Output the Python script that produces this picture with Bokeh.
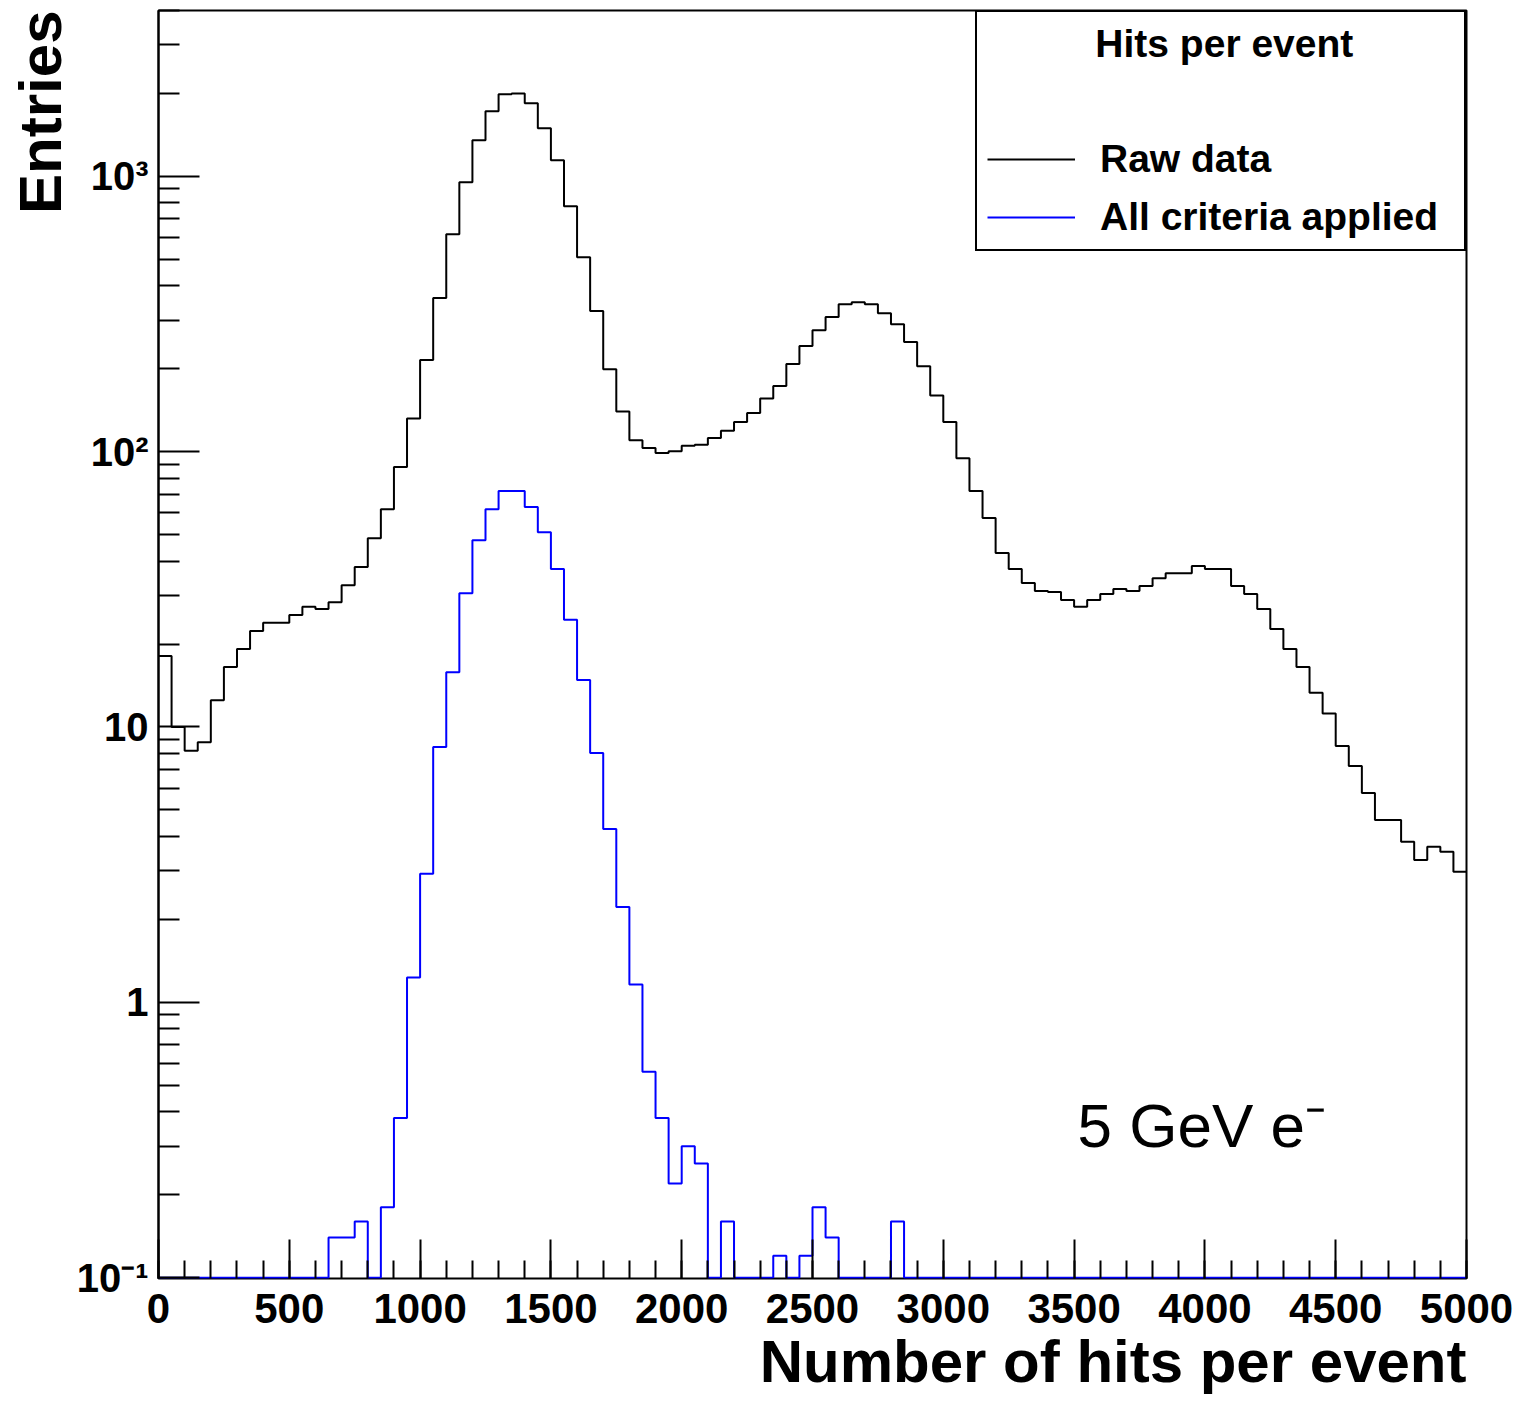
import numpy as np
from bokeh.plotting import figure
from bokeh.models import (Range1d, FixedTicker, CustomJSTickFormatter, Legend,
                          LegendItem, Label, Title)
from bokeh.embed import file_html
from bokeh.resources import INLINE

# ---------------- data ----------------
bin_edges = list(range(0, 5001, 50))          # 100 bins of 50 hits

raw_data = [
    18.1, 10.0, 8.2, 8.8, 12.5, 16.5, 19.2, 22.3, 23.9, 23.9,
    25.5, 27.3, 26.8, 28.4, 32.7, 38.1, 48.5, 61.8, 87.9, 132,
    215, 361, 616, 951, 1352, 1722, 1985, 2000, 1841, 1494,
    1143, 778, 508, 324, 199, 140, 110, 103, 98.8, 100.4,
    105, 106, 112, 119, 128, 138, 156, 173, 208, 242,
    276, 308, 343, 349, 343, 318, 290, 250, 204, 160,
    128, 94.7, 71.9, 57.4, 42.8, 37.5, 33.3, 31.2, 30.9, 28.9,
    27.3, 28.9, 30.4, 31.7, 31.2, 32.5, 34.7, 36.2, 36.2, 38.4,
    37.5, 37.5, 32.5, 30.4, 26.8, 22.7, 19.2, 16.5, 13.3, 11.2,
    8.53, 7.22, 5.76, 4.59, 4.59, 3.83, 3.29, 3.67, 3.52, 2.98,
]

all_criteria = [
    0, 0, 0, 0, 0, 0, 0, 0, 0, 0,
    0, 0, 0, 0.14, 0.14, 0.16, 0, 0.18, 0.38, 1.23,
    2.93, 8.46, 15.8, 30.6, 47.7, 61.8, 71.9, 71.9, 62.9, 51.0,
    37.5, 24.5, 14.8, 8.05, 4.26, 2.22, 1.16, 0.56, 0.38, 0.22,
    0.30, 0.26, 0, 0.16, 0, 0, 0, 0.12, 0, 0.12,
    0.18, 0.14, 0, 0, 0, 0, 0.16, 0, 0, 0,
    0, 0, 0, 0, 0, 0, 0, 0, 0, 0,
    0, 0, 0, 0, 0, 0, 0, 0, 0, 0,
    0, 0, 0, 0, 0, 0, 0, 0, 0, 0,
    0, 0, 0, 0, 0, 0, 0, 0, 0, 0,
]

x_major_ticks = list(range(0, 5001, 500))
x_minor_ticks = list(range(0, 5001, 100))
y_major_ticks = [0.1, 1, 10, 100, 1000]
y_minor_ticks = [m * 10.0 ** e for e in range(-1, 4) for m in range(2, 10)]

x_title = "Number of hits per event"
y_title = "Entries"
legend_title = "Hits per event"
label_raw = "Raw data"
label_sel = "All criteria applied"
annotation_text = "5 GeV e\u207b"

X_MIN, X_MAX = 0, 5000
Y_MIN, Y_MAX = 0.0993, 4000
Y_FLOOR = 0.1  # ROOT draws empty bins on the frame bottom

FONT = "Liberation Sans"

# ---------------- figure ----------------
p = figure(width=1519, height=1406,
           x_range=Range1d(X_MIN, X_MAX), y_range=Range1d(Y_MIN, Y_MAX),
           y_axis_type="log", output_backend="svg", toolbar_location=None,
           min_border_left=158, min_border_top=10, min_border_right=53,
           min_border_bottom=128)
p.grid.visible = False
p.outline_line_color = "black"
p.outline_line_alpha = 1.0
p.outline_line_width = 2
p.background_fill_color = "white"
p.border_fill_color = "white"


def step_values(vals):
    v = np.where(np.asarray(vals, dtype=float) > 0, vals, Y_FLOOR)
    return list(np.append(v, v[-1]))


r_raw = p.step(x=bin_edges, y=step_values(raw_data), mode="after",
               line_color="black", line_width=2)
r_sel = p.step(x=bin_edges, y=step_values(all_criteria), mode="after",
               line_color="#0000ff", line_width=2)

# ---------------- axes ----------------
xa = p.xaxis[0]
xa.ticker = FixedTicker(ticks=x_major_ticks, minor_ticks=x_minor_ticks)
xa.major_label_text_font = FONT
xa.major_label_text_font_style = "bold"
xa.major_label_text_font_size = "42px"
xa.major_label_text_color = "black"
xa.major_label_standoff = 15
xa.major_tick_in = 39
xa.major_tick_out = 0
xa.minor_tick_in = 18
xa.minor_tick_out = 0
xa.axis_line_color = None
xa.major_tick_line_width = 2
xa.minor_tick_line_width = 2
xa.major_tick_line_color = "black"
xa.minor_tick_line_color = "black"

ya = p.yaxis[0]
ya.ticker = FixedTicker(ticks=y_major_ticks, minor_ticks=y_minor_ticks)
ya.formatter = CustomJSTickFormatter(code=r"""
const e = Math.round(Math.log10(tick));
if (e === 0) return "1";
if (e === 1) return "10";
const sup = {"-": "\u207b", "0": "\u2070", "1": "\u00b9", "2": "\u00b2", "3": "\u00b3",
             "4": "\u2074", "5": "\u2075", "6": "\u2076", "7": "\u2077", "8": "\u2078", "9": "\u2079"};
return "10" + String(e).split("").map(c => sup[c]).join("");
""")
ya.major_label_text_font = FONT
ya.major_label_text_font_style = "bold"
ya.major_label_text_font_size = "40px"
ya.major_label_text_color = "black"
ya.major_label_standoff = 10
ya.major_tick_in = 41
ya.major_tick_out = 0
ya.minor_tick_in = 21
ya.minor_tick_out = 0
ya.axis_line_width = 2
ya.axis_line_color = "black"
ya.major_tick_line_width = 2
ya.minor_tick_line_width = 2
ya.major_tick_line_color = "black"
ya.minor_tick_line_color = "black"

# axis titles, ROOT style: flush with the far end of each axis
p.add_layout(Title(text=x_title, align="right", text_font=FONT,
                   text_font_size="60px", text_font_style="bold",
                   text_color="black", standoff=0), "below")
p.add_layout(Title(text=y_title, align="right", text_font=FONT,
                   text_font_size="60px", text_font_style="bold",
                   text_color="black", standoff=0), "left")

# ---------------- legend ----------------
legend = Legend(items=[LegendItem(label=label_raw, renderers=[r_raw]),
                       LegendItem(label=label_sel, renderers=[r_sel])],
                location="top_right",
                title="\u00a0" * 10 + legend_title)
legend.margin = 0
legend.padding = 10
legend.spacing = 14
legend.glyph_width = 88
legend.glyph_height = 30
legend.label_height = 30
legend.label_width = 354
legend.label_standoff = 25
legend.title_standoff = 71
legend.border_line_color = "black"
legend.border_line_alpha = 1.0
legend.border_line_width = 2
legend.background_fill_color = "white"
legend.background_fill_alpha = 1.0
legend.label_text_font = FONT
legend.label_text_font_style = "bold"
legend.label_text_font_size = "39px"
legend.label_text_color = "black"
legend.title_text_font = FONT
legend.title_text_font_style = "bold"
legend.title_text_font_size = "39px"
legend.title_text_color = "black"
p.add_layout(legend)

# ---------------- annotation ----------------
p.add_layout(Label(x=3513, y=0.357, text=annotation_text, text_font=FONT,
                   text_font_size="62px", text_baseline="middle",
                   text_align="left", text_color="black"))

open("out.html", "w").write(file_html(p, INLINE))
